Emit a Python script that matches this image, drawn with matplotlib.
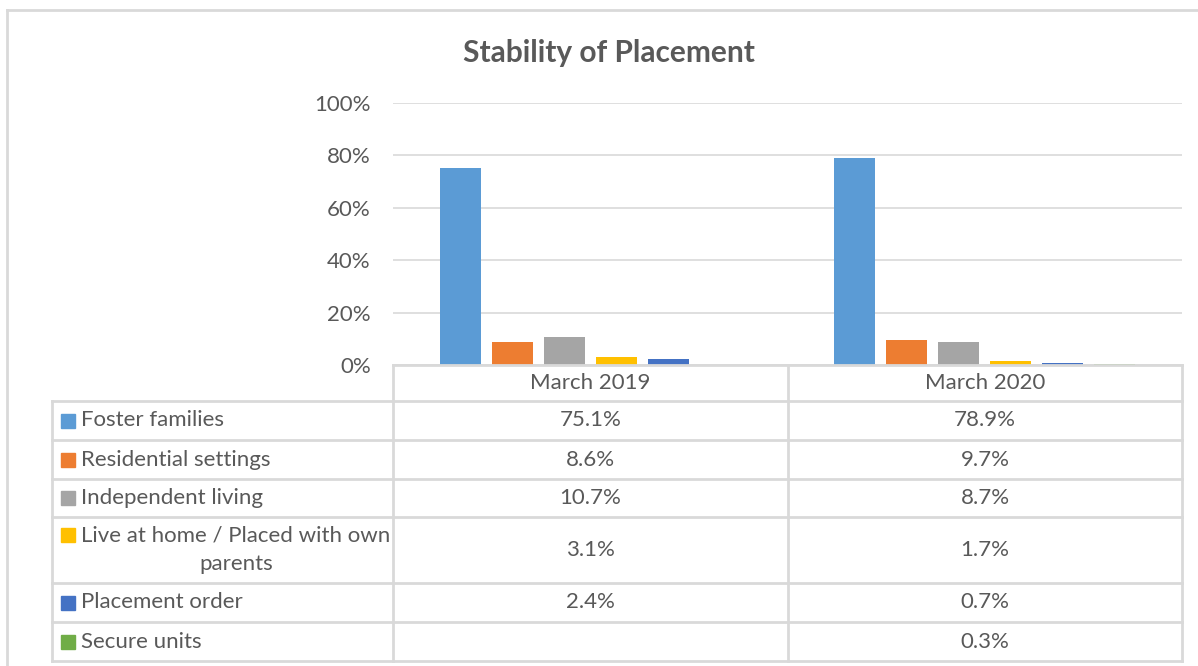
import numpy as np
import matplotlib
matplotlib.use("Agg")
from matplotlib import pyplot as plt
from matplotlib.lines import Line2D
from matplotlib.patches import Rectangle

periods = ["March 2019", "March 2020"]
placements = ["Foster families", "Residential settings", "Independent living",
              "Live at home / Placed with own\nparents", "Placement order", "Secure units"]
values_2019 = [75.1, 8.6, 10.7, 3.1, 2.4, np.nan]
values_2020 = [78.9, 9.7, 8.7, 1.7, 0.7, 0.3]
yticks = [0, 20, 40, 60, 80, 100]

colors = ["#5B9BD5", "#ED7D31", "#A5A5A5", "#FFC000", "#4472C4", "#70AD47"]
TEXT = "#595959"
GRID = "#D9D9D9"
FONT = "Lato"
FS = 16

W, H = 1198, 666
fig = plt.figure(figsize=(W / 100, H / 100), dpi=100)


def fx(x):
    return x / W


def fy(y):
    return 1 - y / H


# plot area in pixel terms
left, right, top, bottom = 393, 1182, 103, 365
ax = fig.add_axes([fx(left), fy(bottom), fx(right) - fx(left), fy(top) - fy(bottom)])

data = np.array([values_2019, values_2020])
step = 52 / 395
width = 41 / 395
x = np.arange(len(periods))
for i in range(len(placements)):
    ax.bar(x + (i - 2.5) * step, data[:, i], width, color=colors[i], zorder=3)

ax.set_xlim(-0.5, 1.5)
ax.set_ylim(0, 100)
ax.set_yticks(yticks)
ax.set_yticklabels(["%d%%" % t for t in yticks], fontsize=FS, color=TEXT, family=FONT)
ax.tick_params(axis="y", length=0, pad=16)
ax.set_xticks([])
ax.grid(axis="y", color=GRID, linewidth=1.2, zorder=0)
for s in ax.spines.values():
    s.set_visible(False)

fig.text(fx(609), fy(53), "Stability of Placement", ha="center", va="center",
         fontsize=21.5, fontweight="bold", color=TEXT, family=FONT)

# outer chart border (top and left visible)
fig.add_artist(Line2D([fx(7), fx(1198)], [fy(10), fy(10)], color=GRID, lw=2))
fig.add_artist(Line2D([fx(7), fx(7)], [fy(10), fy(666)], color=GRID, lw=2))

# data table
rows = [365, 401, 440, 479, 517, 583, 622, 661]
cols = [52, 393, 788, 1182]
lc = "#D9D9D9"
for y in rows[1:]:
    fig.add_artist(Line2D([fx(52), fx(1182)], [fy(y), fy(y)], color=lc, lw=2))
fig.add_artist(Line2D([fx(393), fx(1182)], [fy(365), fy(365)], color=lc, lw=2))
fig.add_artist(Line2D([fx(52), fx(52)], [fy(401), fy(661)], color=lc, lw=2))
for xv in cols[1:]:
    fig.add_artist(Line2D([fx(xv), fx(xv)], [fy(365), fy(661)], color=lc, lw=2))

for j, p in enumerate(periods):
    cx = (cols[j + 1] + cols[j + 2]) / 2
    fig.text(fx(cx), fy((rows[0] + rows[1]) / 2), p, ha="center", va="center",
             fontsize=FS, color=TEXT, family=FONT)

for i, name in enumerate(placements):
    cy = (rows[i + 1] + rows[i + 2]) / 2
    if "\n" in name:
        ty = rows[i + 1] + 18
        fig.text(fx(236), fy(cy), name, ha="center", va="center", fontsize=FS,
                 color=TEXT, family=FONT, multialignment="center", linespacing=1.5)
    else:
        ty = cy
        fig.text(fx(81), fy(cy), name, ha="left", va="center", fontsize=FS,
                 color=TEXT, family=FONT)
    fig.add_artist(Rectangle((fx(61), fy(ty + 7)), fx(14), 14 / H,
                             color=colors[i], transform=fig.transFigure))
    for j in range(len(periods)):
        v = data[j, i]
        if np.isnan(v):
            continue
        cx = (cols[j + 1] + cols[j + 2]) / 2
        fig.text(fx(cx), fy(cy), "%.1f%%" % v, ha="center", va="center",
                 fontsize=FS, color=TEXT, family=FONT)

fig.savefig("out.png", dpi=100)
